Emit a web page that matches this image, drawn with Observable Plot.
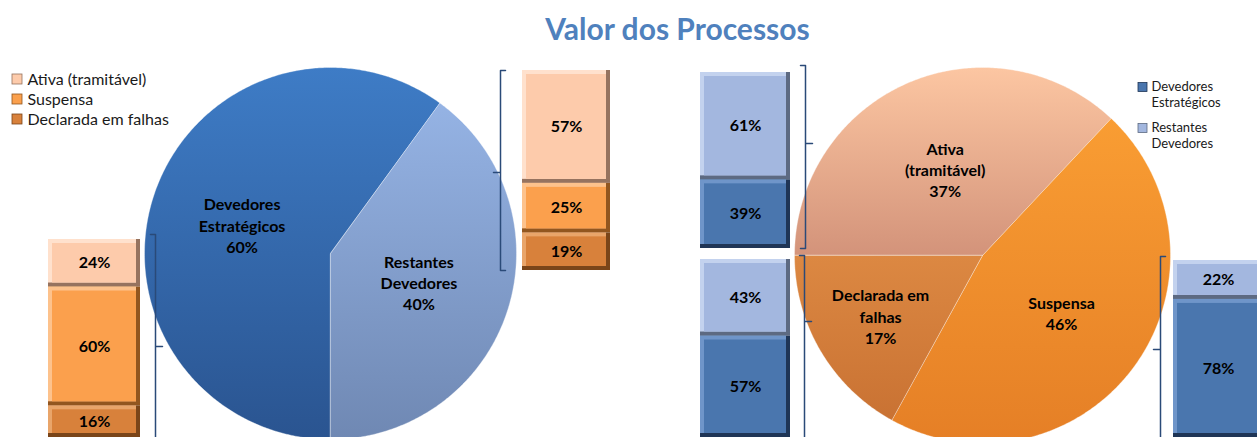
<!DOCTYPE html>
<html><head><meta charset="utf-8">
<script src="https://cdn.jsdelivr.net/npm/d3@7"></script>
<script src="https://cdn.jsdelivr.net/npm/@observablehq/plot@0.6"></script>
<style>
html,body{margin:0;padding:0;background:#fff;overflow:hidden;width:1257px;height:437px}
#title{height:50px;font:bold 30px Lato, "Open Sans", sans-serif;line-height:56px;text-align:center;padding-left:98px;box-sizing:border-box;color:#4f81bd;overflow:hidden}
</style></head><body>
<div id="title">Valor dos Processos</div>
<div id="chart"></div>
<script>
// ---------- DATA ----------
// Pie 1: value by type of debtor
const devedores = ["Devedores Estratégicos", "Restantes Devedores"];
const devedoresRotulo = ["Devedores\nEstratégicos", "Restantes\nDevedores"];
const devedoresPct = [60, 40];

// Pie 2: value by process status
const estados = ["Ativa (tramitável)", "Suspensa", "Declarada em falhas"];
const estadosRotulo = ["Ativa\n(tramitável)", "Suspensa", "Declarada em\nfalhas"];
const estadosPct = [37, 46, 17];

// Each debtor group split by status (Ativa, Suspensa, Declarada)
const estrategicosPorEstado = [24, 60, 16];
const restantesPorEstado = [57, 25, 19];

// Each status split by debtor group (Estratégicos, Restantes)
const ativaPorDevedor = [39, 61];
const suspensaPorDevedor = [78, 22];
const declaradaPorDevedor = [57, 43];

// ---------- STYLE / LAYOUT ----------
const TOP = 50, W = 1257, H = 437 - TOP;
const grad = {
  "Devedores Estratégicos": ["#3e7cc6", "#2a5490"],
  "Restantes Devedores": ["#95b3e4", "#6f88b3"],
  "Ativa (tramitável)": ["#fcc6a2", "#d3937a"],
  "Suspensa": ["#f99d33", "#e57f26"],
  "Declarada em falhas": ["#dc8842", "#c97233"]
};
const gid = {"Devedores Estratégicos":"gEst","Restantes Devedores":"gRes","Ativa (tramitável)":"gAti","Suspensa":"gSus","Declarada em falhas":"gDec"};
const barShade = {
  "Devedores Estratégicos": {base:"#4a76ae", light:"#6f95c9", dark:"#1f3556"},
  "Restantes Devedores": {base:"#a3b7df", light:"#c3d2ee", dark:"#5d6a82"},
  "Ativa (tramitável)": {base:"#fdcbab", light:"#ffe1cd", dark:"#96735f"},
  "Suspensa": {base:"#fba04d", light:"#fdc28c", dark:"#92561f"},
  "Declarada em falhas": {base:"#d8813b", light:"#e9a56a", dark:"#7a4519"}
};

const pies = [
  {cx:330, cy:253, r:186, start:Math.PI, names:devedores, labels:devedoresRotulo, values:devedoresPct, labelR:[0.5,0.5]},
  {cx:982, cy:255, r:188, start:1.5*Math.PI, names:estados, labels:estadosRotulo, values:estadosPct, labelR:[0.5,0.52,0.63]}
];

const barras = [
  {x1:48, x2:140, top:239, bottom:437, cats:estados, values:estrategicosPorEstado},
  {x1:522, x2:610, top:70, bottom:270, cats:estados, values:restantesPorEstado},
  {x1:700, x2:790, top:72, bottom:248, cats:[devedores[1], devedores[0]], values:[ativaPorDevedor[1], ativaPorDevedor[0]]},
  {x1:700, x2:790, top:259, bottom:437, cats:[devedores[1], devedores[0]], values:[declaradaPorDevedor[1], declaradaPorDevedor[0]]},
  {x1:1173, x2:1263, top:260, bottom:437, cats:[devedores[1], devedores[0]], values:[suspensaPorDevedor[1], suspensaPorDevedor[0]]}
];

const chaves = [
  {x:155, top:234, mid:346, bottom:470, dir:-1},
  {x:500, top:70, mid:172, bottom:270, dir:1},
  {x:805, top:65, mid:143, bottom:248, dir:-1},
  {x:804, top:255, mid:321, bottom:470, dir:-1},
  {x:1160, top:256, mid:349, bottom:470, dir:1}
];

// ---------- BUILD ROWS ----------
const sliceRows = [], pieLabels = [];
pies.forEach((p, pi) => {
  const arcs = d3.pie().sort(null).startAngle(p.start).endAngle(p.start + 2*Math.PI)(p.values);
  arcs.forEach((a, i) => {
    const key = pi + "-" + i, name = p.names[i];
    const fill = `url(#${gid[name]})`;
    sliceRows.push({key, x:p.cx, y:p.cy, fill});
    const n = Math.max(2, Math.ceil((a.endAngle - a.startAngle) / 0.01));
    for (let k = 0; k <= n; k++) {
      const t = a.startAngle + (a.endAngle - a.startAngle) * k / n;
      sliceRows.push({key, x:p.cx + p.r*Math.sin(t), y:p.cy - p.r*Math.cos(t), fill});
    }
    const m = (a.startAngle + a.endAngle)/2, rr = p.r * p.labelR[i];
    pieLabels.push({x:p.cx + rr*Math.sin(m), y:p.cy - rr*Math.cos(m), text:p.labels[i] + "\n" + p.values[i] + "%"});
  });
});

const segs = [];
barras.forEach(b => {
  const total = d3.sum(b.values);
  const cum = d3.cumsum(b.values);
  b.values.forEach((v, i) => {
    const y1 = b.top + (cum[i] - v) / total * (b.bottom - b.top);
    const y2 = b.top + cum[i] / total * (b.bottom - b.top);
    segs.push({x1:b.x1, x2:b.x2, y1, y2, cat:b.cats[i], text:v + "%"});
  });
});

const braceRows = [];
chaves.forEach((c, i) => {
  const pts = [[c.x + c.dir*5, c.top], [c.x, c.top], [c.x, c.mid], [c.x - c.dir*7, c.mid], [c.x, c.mid], [c.x, c.bottom], [c.x + c.dir*5, c.bottom]];
  pts.forEach(([x, y]) => braceRows.push({k:i, x, y}));
});

const legL = estados.map((e, i) => ({name:e, y:79 + i*20}));
const legR = devedores.map((e, i) => ({name:e, text:devedoresRotulo[i], y:87 + i*41}));

const B = 4;
const font = "Lato, 'Open Sans', sans-serif";

const svg = Plot.plot({
  width: W, height: H,
  margin: 0,
  x: {type:"linear", domain:[0, W], range:[0, W], axis:null},
  y: {type:"linear", domain:[TOP, 437], range:[0, H], axis:null},
  color: {type:"identity"},
  style: {fontFamily: font, background:"white", overflow:"hidden"},
  marks: [
    // pies
    Plot.line(sliceRows, {x:"x", y:"y", z:"key", fill:"fill", curve:"linear-closed", stroke:"#ffffff", strokeOpacity:0.35, strokeWidth:1}),
    Plot.text(pieLabels, {x:"x", y:"y", text:"text", fontSize:16, fontWeight:"bold", fill:"#000", lineHeight:1.32}),
    // bars (bevel)
    Plot.rect(segs, {x1:"x1", x2:"x2", y1:"y1", y2:"y2", fill:d => barShade[d.cat].dark}),
    Plot.rect(segs, {x1:"x1", x2:d => d.x2 - B, y1:"y1", y2:d => d.y2 - B, fill:d => barShade[d.cat].light}),
    Plot.rect(segs, {x1:d => d.x1 + B, x2:d => d.x2 - B, y1:d => d.y1 + B, y2:d => d.y2 - B, fill:d => barShade[d.cat].base}),
    Plot.text(segs, {x:d => (d.x1 + d.x2)/2, y:d => (d.y1 + d.y2)/2, text:"text", fontSize:16, fontWeight:"bold", fill:"#000"}),
    // braces
    Plot.line(braceRows, {x:"x", y:"y", z:"k", stroke:"#2a4a78", strokeWidth:1.5, curve:"linear"}),
    // left legend
    Plot.rect(legL, {x1:12, x2:22, y1:d => d.y - 5, y2:d => d.y + 5, fill:d => barShade[d.name].base, stroke:d => barShade[d.name].dark, strokeWidth:0.8}),
    Plot.text(legL, {x:27, y:"y", text:"name", textAnchor:"start", fontSize:16, fill:"#1a1a1a"}),
    // right legend
    Plot.rect(legR, {x1:1138, x2:1147, y1:d => d.y - 4.5, y2:d => d.y + 4.5, fill:d => barShade[d.name].base, stroke:d => barShade[d.name].dark, strokeWidth:0.8}),
    Plot.text(legR, {x:1151, y:d => d.y - 8, text:"text", textAnchor:"start", lineAnchor:"top", fontSize:13, lineHeight:1.25, fill:"#1a1a1a"})
  ]
});

const defs = d3.select(svg).insert("defs", ":first-child");
Object.entries(grad).forEach(([name, [c0, c1]]) => {
  const g = defs.append("linearGradient").attr("id", gid[name]).attr("x1", 0).attr("y1", 0).attr("x2", 0).attr("y2", 1);
  g.append("stop").attr("offset", "0%").attr("stop-color", c0);
  g.append("stop").attr("offset", "100%").attr("stop-color", c1);
});
document.getElementById("chart").appendChild(svg);
</script></body></html>
